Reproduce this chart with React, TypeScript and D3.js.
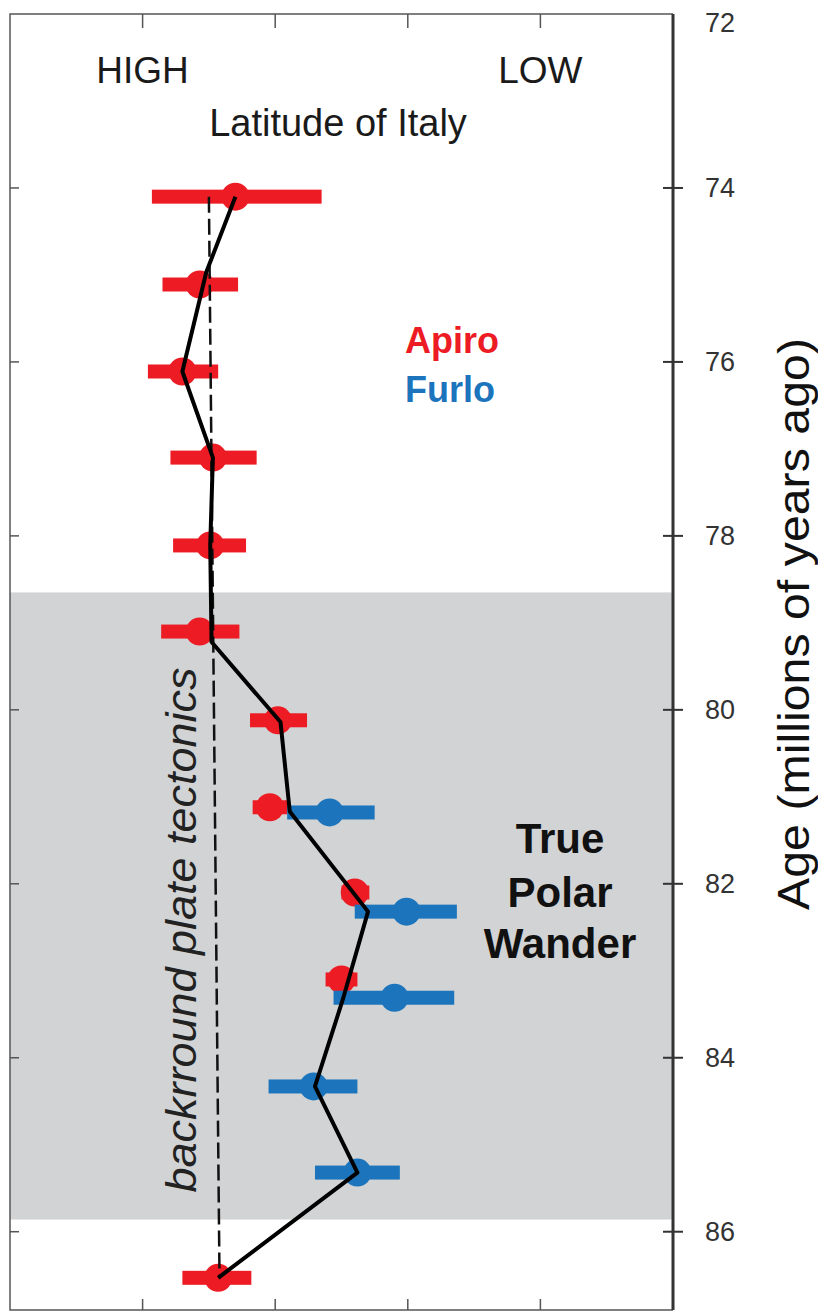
import React, { useEffect, useRef } from 'react';
import * as d3 from 'd3';

// Apiro section (red)
const apiroAge = [74.1, 75.11, 76.11, 77.1, 78.11, 79.1, 80.12, 81.12, 82.1, 83.1, 86.53];
const apiroLat = [1.7, 1.43, 1.3, 1.53, 1.51, 1.43, 2.02, 1.96, 2.6, 2.5, 1.57];
const apiroLow = [1.07, 1.15, 1.04, 1.21, 1.23, 1.14, 1.81, 1.83, 2.5, 2.38, 1.3];
const apiroHigh = [2.35, 1.72, 1.57, 1.86, 1.78, 1.73, 2.24, 2.09, 2.71, 2.62, 1.82];

// Furlo section (blue)
const furloAge = [81.18, 82.32, 83.31, 84.33, 85.32];
const furloLat = [2.41, 2.99, 2.9, 2.29, 2.62];
const furloLow = [2.09, 2.6, 2.44, 1.95, 2.3];
const furloHigh = [2.75, 3.37, 3.35, 2.62, 2.94];

// black path
const pathAge = [74.1, 74.97, 76.11, 77.1, 78.11, 79.22, 80.14, 81.17, 82.32, 83.33, 84.33, 85.32, 86.53];
const pathLat = [1.7, 1.48, 1.3, 1.53, 1.51, 1.52, 2.04, 2.11, 2.7, 2.51, 2.3, 2.62, 1.57];

// background plate tectonics trend (dashed)
const bgAge = [74.1, 86.53];
const bgLat = [1.5, 1.58];

// grey band = true polar wander
const tpwBand = [78.65, 85.86];

const ageTicks = [72, 74, 76, 78, 80, 82, 84, 86];
const latTicks = [1, 2, 3, 4];

const RED = '#ed1c24';
const BLUE = '#1c75bc';
const FONT = '"Liberation Sans", Arial, Helvetica, sans-serif';

const App = () => {
  const svgRef = useRef<SVGSVGElement>(null);

  useEffect(() => {
    const width = 818;
    const height = 1314;
    const left = 10, right = 673, top = 14, bottom = 1310;

    const svg = d3.select(svgRef.current);
    svg.selectAll('*').remove();
    svg.attr('width', width).attr('height', height);

    const x = d3.scaleLinear().domain([0, 5]).range([left, right]);
    const y = d3.scaleLinear().domain([72, 86.9]).range([top, bottom]);

    svg.append('rect').attr('width', width).attr('height', height).attr('fill', '#fff');

    // grey band
    svg.append('rect')
      .attr('x', left)
      .attr('y', y(tpwBand[0]))
      .attr('width', right - left)
      .attr('height', y(tpwBand[1]) - y(tpwBand[0]))
      .attr('fill', '#d1d3d4');

    // frame (left, top, bottom thin)
    const frame = svg.append('g').attr('stroke', '#555').attr('stroke-width', 1.5).attr('fill', 'none');
    frame.append('path').attr('d', `M${right},${top}H${left}V${bottom}H${right}`);

    // inner ticks top / bottom
    latTicks.forEach(t => {
      frame.append('line').attr('x1', x(t)).attr('x2', x(t)).attr('y1', top).attr('y2', top + 14);
      frame.append('line').attr('x1', x(t)).attr('x2', x(t)).attr('y1', bottom).attr('y2', bottom - 11);
    });
    // left inner ticks
    ageTicks.slice(1).forEach(t => {
      frame.append('line').attr('x1', left).attr('x2', left + 9).attr('y1', y(t)).attr('y2', y(t));
    });

    // right axis
    const ax = svg.append('g').attr('transform', `translate(${right},0)`);
    ax.append('line').attr('y1', top).attr('y2', bottom).attr('stroke', '#333').attr('stroke-width', 3);
    ageTicks.forEach(t => {
      if (t !== 72) {
        ax.append('line').attr('x1', -10).attr('x2', 10).attr('y1', y(t)).attr('y2', y(t))
          .attr('stroke', '#333').attr('stroke-width', 2);
      }
      ax.append('text')
        .attr('x', 32)
        .attr('y', t === 72 ? y(t) + 9 : y(t))
        .attr('dy', '0.35em')
        .attr('font-family', FONT)
        .attr('font-size', 27)
        .attr('fill', '#333')
        .text(t);
    });

    // axis title
    svg.append('text')
      .attr('transform', `translate(809,624) rotate(-90)`)
      .attr('text-anchor', 'middle')
      .attr('font-family', FONT)
      .attr('font-size', 44)
      .attr('textLength', 572)
      .attr('lengthAdjust', 'spacingAndGlyphs')
      .attr('fill', '#111')
      .text('Age (millions of years ago)');

    // error bars + markers
    const drawSeries = (ages: number[], lat: number[], lo: number[], hi: number[], color: string) => {
      const g = svg.append('g').attr('fill', color);
      ages.forEach((a, i) => {
        g.append('rect')
          .attr('x', x(lo[i]))
          .attr('y', y(a) - 7)
          .attr('width', x(hi[i]) - x(lo[i]))
          .attr('height', 14);
        g.append('circle').attr('cx', x(lat[i])).attr('cy', y(a)).attr('r', 14);
      });
    };
    drawSeries(apiroAge, apiroLat, apiroLow, apiroHigh, RED);
    drawSeries(furloAge, furloLat, furloLow, furloHigh, BLUE);

    const line = d3.line<number>().x(d => x(d[0])).y(d => y(d[1]));

    svg.append('path')
      .attr('d', line(bgLat.map((l, i) => [l, bgAge[i]]) as any))
      .attr('fill', 'none')
      .attr('stroke', '#111')
      .attr('stroke-width', 2.5)
      .attr('stroke-dasharray', '16 6');

    svg.append('path')
      .attr('d', line(pathLat.map((l, i) => [l, pathAge[i]]) as any))
      .attr('fill', 'none')
      .attr('stroke', '#000')
      .attr('stroke-width', 4)
      .attr('stroke-linejoin', 'round');

    // labels
    const label = (txt: string, tx: number, ty: number, opts: any = {}) => {
      svg.append('text')
        .attr('x', tx).attr('y', ty)
        .attr('text-anchor', opts.anchor || 'middle')
        .attr('font-family', FONT)
        .attr('font-size', opts.size || 37)
        .attr('font-weight', opts.weight || 'normal')
        .attr('fill', opts.fill || '#1a1a1a')
        .text(txt);
    };
    label('HIGH', x(1), 83);
    label('LOW', x(4), 83);
    label('Latitude of Italy', 338, 136, { size: 38 });
    label('Apiro', 405, 353, { anchor: 'start', weight: 'bold', size: 36, fill: RED });
    label('Furlo', 405, 402, { anchor: 'start', weight: 'bold', size: 36, fill: BLUE });
    label('True', 560, 853, { weight: 'bold', size: 42, fill: '#111' });
    label('Polar', 560, 907, { weight: 'bold', size: 42, fill: '#111' });
    label('Wander', 560, 958, { weight: 'bold', size: 42, fill: '#111' });

    svg.append('text')
      .attr('transform', `translate(196,930) rotate(-90)`)
      .attr('text-anchor', 'middle')
      .attr('font-family', FONT)
      .attr('font-size', 42)
      .attr('textLength', 525)
      .attr('lengthAdjust', 'spacingAndGlyphs')
      .attr('font-style', 'italic')
      .attr('fill', '#222')
      .text('backrround plate tectonics');
  }, []);

  return (
    <div style={{ position: 'absolute', left: 0, top: 0 }}>
      <svg ref={svgRef} style={{ display: 'block' }}></svg>
    </div>
  );
};

export default App;
